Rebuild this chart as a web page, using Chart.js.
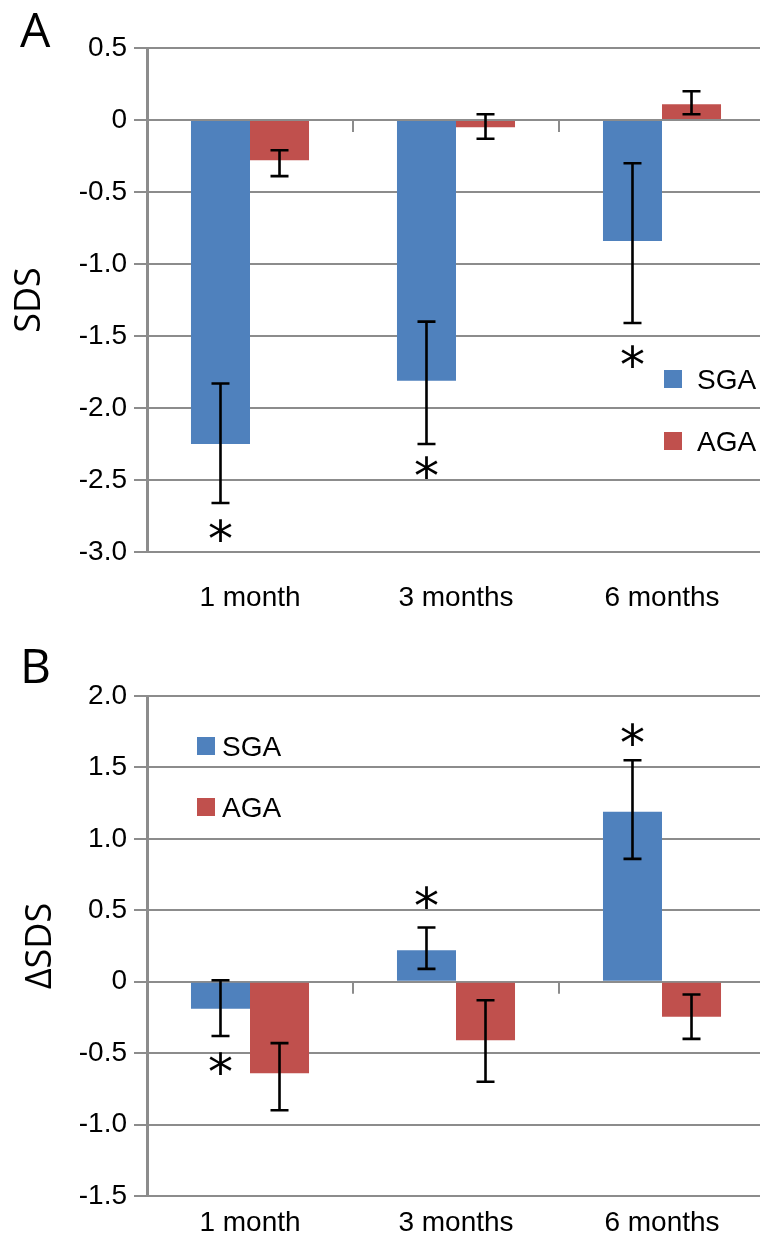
<!DOCTYPE html>
<html lang="en">
<head>
    <meta charset="UTF-8">
    <title>SDS SGA vs AGA</title>
    <script src="https://cdn.jsdelivr.net/npm/chart.js@4.4.1/dist/chart.umd.min.js"></script>
    <style>
    html, body {
      margin: 0;
      padding: 0;
      background: #fff;
    }
    .page {
      position: relative;
      width: 760px;
      height: 1237px;
      overflow: hidden;
    }
    .panel {
      position: absolute;
      left: 0;
      width: 765px;
    }
    #panelA { top: 0; height: 620px; }
    #panelB { top: 620px; height: 617px; }
    </style>
</head>
<body>
    <div class="page">
        <div class="panel" id="panelA"><canvas id="chartA"></canvas></div>
        <div class="panel" id="panelB"><canvas id="chartB"></canvas></div>
    </div>

    <script>
        const categories = ['1 month', '3 months', '6 months'];
        const seriesNames = ['SGA', 'AGA'];
        const seriesColors = ['#4f81bd', '#c0504d'];

        // panel A - SDS
        const sgaA = [-2.25, -1.81, -0.84];
        const sgaLowA = [-2.66, -2.25, -1.41];
        const sgaHighA = [-1.83, -1.40, -0.30];
        const agaA = [-0.28, -0.05, 0.11];
        const agaLowA = [-0.39, -0.13, 0.04];
        const agaHighA = [-0.21, 0.04, 0.20];
        const starA = [-2.85, -2.41, -1.64];   // where the * sits (SGA)
        const ticksA = { min: -3.0, max: 0.5, step: 0.5 };

        // panel B - delta SDS
        const sgaB = [-0.19, 0.22, 1.19];
        const sgaLowB = [-0.38, 0.09, 0.86];
        const sgaHighB = [0.01, 0.38, 1.55];
        const agaB = [-0.64, -0.41, -0.245];
        const agaLowB = [-0.90, -0.70, -0.40];
        const agaHighB = [-0.43, -0.13, -0.09];
        const starB = [-0.57, 0.59, 1.73];
        const ticksB = { min: -1.5, max: 2.0, step: 0.5 };

        const gridColor = '#8c8c8c';
        const tickFont = { family: 'Liberation Sans', size: 28 };

        // error bars, asterisks, zero-line separators, legend, panel letter
        const extrasPlugin = {
          id: 'extras',
          afterDatasetsDraw(chart, args, opts) {
            const ctx = chart.ctx;
            const xs = chart.scales.x;
            const ys = chart.scales.y;
            ctx.save();

            // little separators on the zero line
            const y0 = ys.getPixelForValue(0);
            ctx.strokeStyle = gridColor;
            ctx.lineWidth = 2;
            for (let i = 1; i < categories.length; i++) {
              const xm = (xs.getPixelForTick(i - 1) + xs.getPixelForTick(i)) / 2;
              ctx.beginPath();
              ctx.moveTo(xm, y0);
              ctx.lineTo(xm, y0 + 12);
              ctx.stroke();
            }

            // error bars
            ctx.strokeStyle = '#000';
            ctx.lineWidth = 2.6;
            chart.data.datasets.forEach((ds, di) => {
              const meta = chart.getDatasetMeta(di);
              meta.data.forEach((bar, j) => {
                const yl = ys.getPixelForValue(ds.errLow[j]);
                const yh = ys.getPixelForValue(ds.errHigh[j]);
                const cap = 9;
                ctx.beginPath();
                ctx.moveTo(bar.x, yl);
                ctx.lineTo(bar.x, yh);
                ctx.moveTo(bar.x - cap, yl);
                ctx.lineTo(bar.x + cap, yl);
                ctx.moveTo(bar.x - cap, yh);
                ctx.lineTo(bar.x + cap, yh);
                ctx.stroke();
              });
            });

            // significance stars over the SGA bars
            ctx.fillStyle = '#000';
            ctx.font = '50px "DejaVu Sans"';
            ctx.textAlign = 'center';
            ctx.textBaseline = 'alphabetic';
            const m = ctx.measureText('*');
            const shift = (m.actualBoundingBoxAscent - m.actualBoundingBoxDescent) / 2;
            const sgaMeta = chart.getDatasetMeta(0);
            opts.stars.forEach((v, j) => {
              if (v === null) return;
              ctx.fillText('*', sgaMeta.data[j].x, ys.getPixelForValue(v) + shift);
            });

            // legend
            ctx.font = '28px "Liberation Sans"';
            ctx.textAlign = 'left';
            chart.data.datasets.forEach((ds, di) => {
              const it = opts.legend[di];
              ctx.fillStyle = ds.backgroundColor;
              ctx.fillRect(it.x, it.y, 18, 18);
              ctx.fillStyle = '#000';
              ctx.fillText(ds.label, it.x + opts.legendGap, it.y + 19);
            });

            // panel letter
            ctx.font = '48px "Open Sans"';
            ctx.fillText(opts.letter, 20, opts.letterBase);
            ctx.restore();
          }
        };

        function makeChart(id, vals, lows, highs, ticks, title, cfg) {
          return new Chart(document.getElementById(id), {
            type: 'bar',
            data: {
              labels: categories,
              datasets: [0, 1].map(k => ({
                label: seriesNames[k],
                data: vals[k],
                errLow: lows[k],
                errHigh: highs[k],
                backgroundColor: seriesColors[k],
                borderWidth: 0,
                barPercentage: 1,
                categoryPercentage: 0.573
              }))
            },
            options: {
              responsive: true,
              maintainAspectRatio: false,
              animation: false,
              layout: { padding: { top: cfg.top, left: 0, right: 0, bottom: 0 } },
              plugins: {
                legend: { display: false },
                tooltip: { enabled: false },
                extras: cfg.extras
              },
              scales: {
                x: {
                  grid: { display: false, drawTicks: false },
                  border: { display: false },
                  ticks: { color: '#000', font: tickFont, padding: cfg.xPad, maxRotation: 0 },
                  afterFit: s => { s.height = cfg.xHeight; }
                },
                y: {
                  min: ticks.min,
                  max: ticks.max,
                  grid: { color: gridColor, lineWidth: 2, tickLength: 13 },
                  border: { color: gridColor, width: 3 },
                  ticks: {
                    stepSize: ticks.step,
                    color: '#000',
                    font: tickFont,
                    padding: 7,
                    callback: v => v === 0 ? '0' : v.toFixed(1)
                  },
                  title: {
                    display: true,
                    text: title,
                    color: '#000',
                    font: { family: 'Open Sans', size: 36, lineHeight: 1 },
                    padding: { top: cfg.titlePad, bottom: 0 }
                  },
                  afterFit: s => { s.width = 147; }
                }
              }
            },
            plugins: [extrasPlugin]
          });
        }

        makeChart('chartA', [sgaA, agaA], [sgaLowA, agaLowA], [sgaHighA, agaHighA], ticksA, 'SDS', {
          top: 48, xHeight: 68, xPad: 29, titlePad: 12,
          extras: {
            stars: starA,
            letter: 'A', letterBase: 47,
            legendGap: 33,
            legend: [{ x: 664, y: 370 }, { x: 664, y: 432 }]
          }
        });

        makeChart('chartB', [sgaB, agaB], [sgaLowB, agaLowB], [sgaHighB, agaHighB], ticksB, '\u0394SDS', {
          top: 76, xHeight: 41, xPad: 10, titlePad: 23,
          extras: {
            stars: starB,
            letter: 'B', letterBase: 63,
            legendGap: 25,
            legend: [{ x: 197, y: 117 }, { x: 197, y: 178 }]
          }
        });
    </script>
</body>
</html>
